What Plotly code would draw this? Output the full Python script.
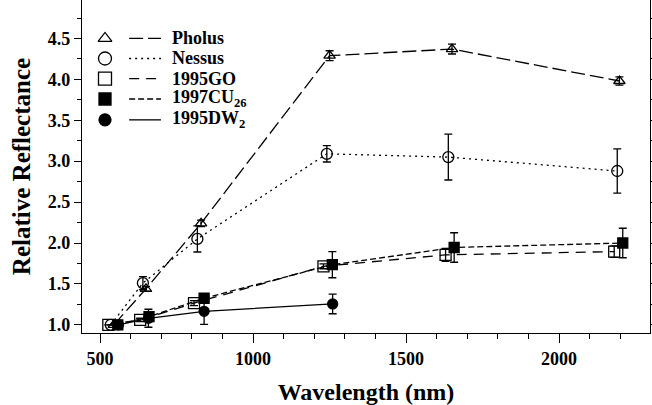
import plotly.graph_objects as go

# ---- data ----
pholus_x = [545, 650, 830, 1250, 1650, 2197]
pholus_y = [1.00, 1.44, 2.24, 4.29, 4.37, 3.98]
pholus_e = [0.0, 0.03, 0.04, 0.06, 0.06, 0.05]

nessus_x = [535, 640, 818, 1241, 1638, 2190]
nessus_y = [1.00, 1.51, 2.05, 3.09, 3.05, 2.88]
nessus_e = [0.0, 0.08, 0.16, 0.10, 0.28, 0.27]

go95_x = [527, 631, 807, 1230, 1629, 2180]
go95_y = [1.00, 1.06, 1.265, 1.715, 1.855, 1.895]
go95_e = [0.0, 0.02, 0.03, 0.03, 0.08, 0.07]

cu97_x = [558, 660, 840, 1259, 1657, 2208]
cu97_y = [1.00, 1.10, 1.325, 1.735, 1.945, 2.00]
cu97_e = [0.0, 0.06, 0.03, 0.16, 0.18, 0.18]

dw95_x = [560, 658, 840, 1260]
dw95_y = [1.00, 1.08, 1.165, 1.255]
dw95_e = [0.0, 0.11, 0.16, 0.12]

names = ["Pholus", "Nessus", "1995GO", "1997CU<sub>26</sub>", "1995DW<sub>2</sub>"]
x_ticks = [500, 1000, 1500, 2000]
y_ticks = [1.0, 1.5, 2.0, 2.5, 3.0, 3.5, 4.0, 4.5]

FONT = "Liberation Serif"
series = [
    (pholus_x, pholus_y, pholus_e, "triangle-up-open", 10, "14px,5px"),
    (nessus_x, nessus_y, nessus_e, "circle-open", 11, "2px,4px"),
    (go95_x, go95_y, go95_e, "square-open", 11, "10px,7px"),
    (cu97_x, cu97_y, cu97_e, "square", 10, "6px,3px"),
    (dw95_x, dw95_y, dw95_e, "circle", 10, "solid"),
]

fig = go.Figure()
for (xs, ys, es, sym, sz, dash), nm in zip(series, names):
    fig.add_trace(go.Scatter(
        x=xs, y=ys, mode="lines+markers", name=nm, showlegend=False,
        line=dict(color="black", width=1.3, dash=dash),
        marker=dict(symbol=sym, size=sz, color="black",
                    line=dict(color="black", width=1.3)),
        error_y=dict(type="data", array=es, visible=True, color="black",
                     thickness=1.3, width=4),
        cliponaxis=False,
    ))

# ---- hand-made legend (overlay axes in 0..1 units of the plot area) ----
Y0, Y1 = 0.9, 4.97
leg_vals = [4.50, 4.255, 4.01, 3.76, 3.505]   # row heights in data units
leg_rows = [(v - Y0) / (Y1 - Y0) for v in leg_vals]
for (xs, ys, es, sym, sz, dash), nm, ry in zip(series, names, leg_rows):
    fig.add_trace(go.Scatter(
        x=[0.0405], y=[ry], mode="markers", xaxis="x2", yaxis="y2",
        showlegend=False, hoverinfo="skip",
        marker=dict(symbol=sym, size=sz + 2, color="black",
                    line=dict(color="black", width=1.3)),
    ))
    fig.add_trace(go.Scatter(
        x=[0.083, 0.139], y=[ry, ry], mode="lines", xaxis="x2", yaxis="y2",
        showlegend=False, hoverinfo="skip",
        line=dict(color="black", width=1.3, dash=dash),
    ))
    fig.add_annotation(
        x=0.155, y=ry, xref="paper", yref="paper", text="<b>%s</b>" % nm,
        showarrow=False, xanchor="left", yanchor="middle",
        font=dict(family=FONT, size=18, color="black"),
    )

axis_common = dict(
    showline=True, linecolor="black", linewidth=1.3,
    ticks="outside", tickcolor="black", tickwidth=1.2,
    showgrid=False, zeroline=False, automargin=False,
    tickfont=dict(family=FONT, size=18, color="black", weight="bold"),
)

fig.update_layout(
    template="none",
    width=652, height=405,
    margin=dict(l=82, r=2, t=0, b=72),
    paper_bgcolor="white", plot_bgcolor="white",
    xaxis=dict(
        range=[441, 2297], tickvals=x_ticks, ticklen=9, mirror=False,
        minor=dict(dtick=100, tick0=0, ticks="outside", ticklen=5,
                   tickcolor="black", tickwidth=1),
        title=dict(text="<b>Wavelength (nm)</b>", standoff=16,
                   font=dict(family=FONT, size=24, color="black")),
        **axis_common,
    ),
    yaxis=dict(
        range=[Y0, Y1], tickvals=y_ticks, ticktext=["%.1f" % v for v in y_ticks],
        ticklen=7, mirror="ticks",
        minor=dict(dtick=0.25, tick0=0, ticks="outside", ticklen=4,
                   tickcolor="black", tickwidth=1),
        title=dict(text="<b>Relative Reflectance</b>", standoff=10,
                   font=dict(family=FONT, size=25, color="black")),
        **axis_common,
    ),
    xaxis2=dict(overlaying="x", range=[0, 1], visible=False),
    yaxis2=dict(overlaying="y", range=[0, 1], visible=False),
    showlegend=False,
)

fig.write_html(
    "out.html",
    config={"displayModeBar": False},
    post_script="document.body.style.margin='0';document.body.style.overflow='hidden';",
)
